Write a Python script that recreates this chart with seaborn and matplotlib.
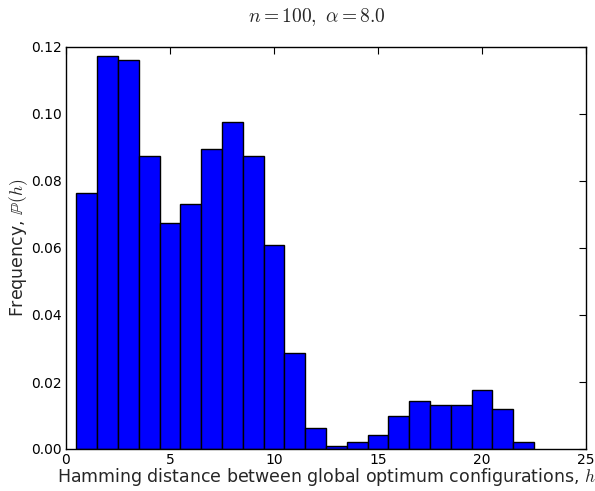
import matplotlib
matplotlib.use("Agg")
import matplotlib.pyplot as plt
import seaborn as sns
import pandas as pd

h_values = [1, 2, 3, 4, 5, 6, 7, 8, 9, 10, 11, 12, 13, 14, 15, 16, 17, 18, 19, 20, 21, 22]
frequency = [0.0763, 0.1174, 0.1162, 0.0874, 0.0675, 0.0730, 0.0897, 0.0975, 0.0874,
             0.0609, 0.0287, 0.0064, 0.0010, 0.0022, 0.0043, 0.0098, 0.0143, 0.0132,
             0.0132, 0.0176, 0.0120, 0.0022]
x_ticks = [0, 5, 10, 15, 20, 25]
y_ticks = [0.00, 0.02, 0.04, 0.06, 0.08, 0.10, 0.12]

sns.set_style("white")
plt.rcParams["font.family"] = ["DejaVu Sans"]
plt.rcParams["mathtext.fontset"] = "cm"

df = pd.DataFrame({"h": h_values, "freq": frequency})

fig = plt.figure(figsize=(5.95, 4.91), dpi=100)
ax = fig.add_axes([66/595, 1 - 449/491, 520/595, 402/491])

sns.histplot(data=df, x="h", weights="freq", discrete=True, ax=ax,
             color="#0000ff", edgecolor="black", linewidth=1.0, alpha=1.0)

ax.set_xlim(0, 25)
ax.set_ylim(0, 0.12)
ax.set_xticks(x_ticks)
ax.set_yticks(y_ticks)
ax.set_xticklabels([str(t) for t in x_ticks])
ax.set_yticklabels([f"{t:.2f}" for t in y_ticks])
ax.tick_params(direction="in", top=True, right=True, length=5, width=0.8,
               labelsize=10, colors="black", pad=3)
for s in ax.spines.values():
    s.set_color("black")
    s.set_linewidth(1.0)

ax.set_xlabel(r"Hamming distance between global optimum configurations, $h$",
              fontsize=12.5)
ax.set_ylabel(r"Frequency, $\mathbb{P}(h)$", fontsize=12.5)
ax.xaxis.set_label_coords(0.5, (449 - 466.5) / 402)
ax.yaxis.set_label_coords((30 - 66) / 520, 0.5)
fig.text(317/595, 1 - 22/491, r"$n=100,\ \alpha=8.0$", ha="center", va="baseline", fontsize=14)

fig.savefig("out.png", dpi=100)
